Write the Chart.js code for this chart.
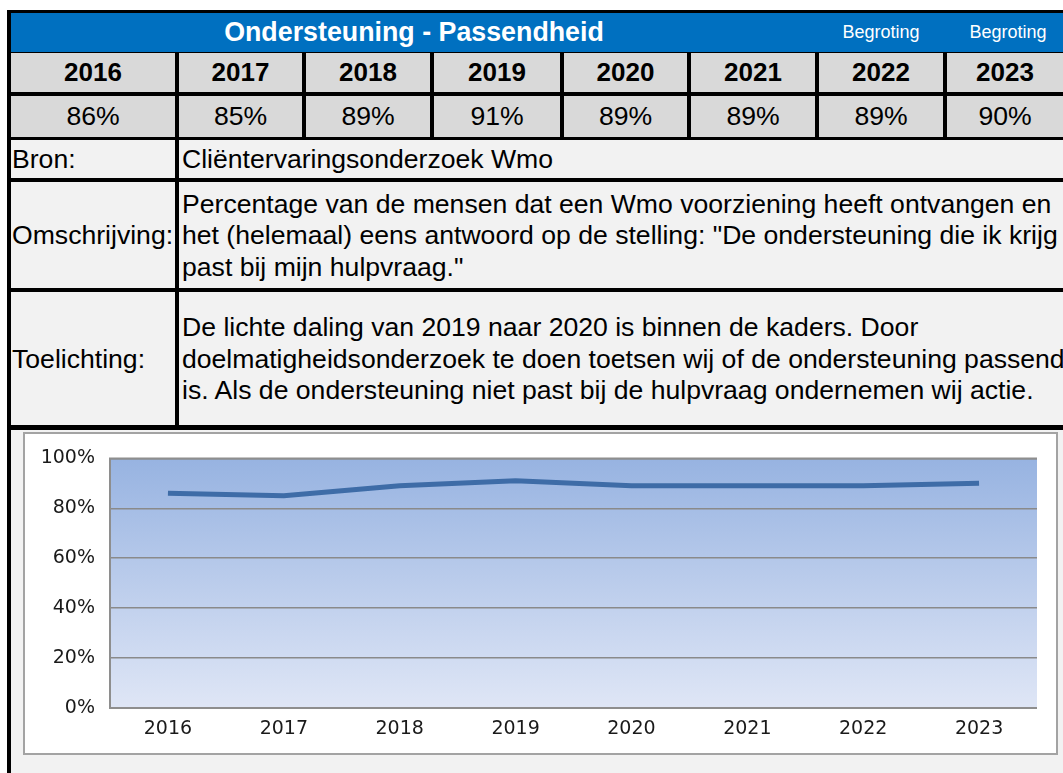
<!DOCTYPE html>
<html>
<head>
<meta charset="utf-8">
<script src="https://cdn.jsdelivr.net/npm/chart.js@4.4.1/dist/chart.umd.min.js"></script>
<style>
    body { margin: 0; background: #fff; width: 1063px; height: 773px; overflow: hidden; position: relative;
           font-family: "Liberation Sans", Arial, sans-serif; }
    .c { position: absolute; display: flex; align-items: center; box-sizing: border-box; white-space: nowrap;
         overflow: hidden; color: #000; font-size: 26.6px; line-height: 31.5px; }
    .frame { position: absolute; left: 23px; top: 432px; width: 1035px; height: 323px; box-sizing: border-box;
             border: 2px solid #a3a3a3; background: #fff; }
    #chartBox { position: absolute; left: 23px; top: 432px; width: 1035px; height: 323px; }
</style>
</head>
<body>
<div id="sheet"></div>
<div class="frame"></div>
<div id="chartBox"><canvas id="passendChart" width="1035" height="323"></canvas></div>
<script>
// Data
const years = ['2016', '2017', '2018', '2019', '2020', '2021', '2022', '2023'];
const values = [86, 85, 89, 91, 89, 89, 89, 90];
const yTicks = [0, 20, 40, 60, 80, 100];
const title = 'Ondersteuning - Passendheid';
const budgetNotes = ['Begroting', 'Begroting'];
const bron = 'Cliëntervaringsonderzoek Wmo';
const omschrijving = [
    'Percentage van de mensen dat een Wmo voorziening heeft ontvangen en',
    'het (helemaal) eens antwoord op de stelling: "De ondersteuning die ik krijg',
    'past bij mijn hulpvraag."'
];
const toelichting = [
    'De lichte daling van 2019 naar 2020 is binnen de kaders. Door',
    'doelmatigheidsonderzoek te doen toetsen wij of de ondersteuning passend',
    'is. Als de ondersteuning niet past bij de hulpvraag ondernemen wij actie.'
];

// Sheet layout
const sheet = document.getElementById('sheet');
const cols = [10, 177, 304, 432, 562, 689, 817, 945, 1063];

function cell(x0, y0, x1, y1, bg, html, style) {
    const d = document.createElement('div');
    d.className = 'c';
    d.style.left = x0 + 'px';
    d.style.top = y0 + 'px';
    d.style.width = (x1 - x0) + 'px';
    d.style.height = (y1 - y0) + 'px';
    if (bg) d.style.background = bg;
    if (html) d.innerHTML = html;
    Object.assign(d.style, style || {});
    sheet.appendChild(d);
    return d;
}

// black grid underneath
cell(7, 10, 1063, 773, '#000');

// header band
cell(11, 13, 1063, 52, '#0070c0');
cell(11, 13, 817, 52, null, title, { color: '#fff', fontWeight: 'bold', fontSize: '26.8px', justifyContent: 'center' });
budgetNotes.forEach((t, i) => {
    cell(cols[6 + i], 13, cols[7 + i] + (i === 1 ? 8 : 0), 52, null, t,
        { color: '#fff', fontSize: '18px', justifyContent: 'center' });
});

// years and values rows
years.forEach((y, i) => {
    const x0 = i === 0 ? 11 : cols[i] + 2;
    const x1 = i === years.length - 1 ? 1063 : cols[i + 1] - 2;
    cell(x0, 53, x1, 92, '#d9d9d9', y, { fontWeight: 'bold', fontSize: '26px', justifyContent: 'center' });
    cell(x0, 96, x1, 137, '#d9d9d9', values[i] + '%', { justifyContent: 'center' });
});

// info rows
const infoRows = [
    ['Bron:', [bron], 140, 178],
    ['Omschrijving:', omschrijving, 182, 288],
    ['Toelichting:', toelichting, 292, 425]
];
infoRows.forEach(r => {
    cell(11, r[2], 175, r[3], '#f2f2f2', r[0], { paddingLeft: '1px', paddingTop: '2px' });
    cell(179, r[2], 1063, r[3], '#f2f2f2', r[1].join('<br>'), { paddingLeft: '3px', paddingTop: '2px' });
});

// chart area background
cell(11, 430, 1063, 773, '#f2f2f2');

// Chart
const plotBg = {
    id: 'plotBg',
    beforeDraw(chart) {
        const { ctx, chartArea: a } = chart;
        const g = ctx.createLinearGradient(0, a.top, 0, a.bottom);
        g.addColorStop(0, '#97b3e1');
        g.addColorStop(1, '#dfe6f6');
        ctx.save();
        ctx.fillStyle = g;
        ctx.fillRect(a.left, a.top, a.right - a.left, a.bottom - a.top);
        ctx.restore();
    },
    beforeDatasetsDraw(chart) {
        const { ctx, chartArea: a } = chart;
        ctx.save();
        ctx.strokeStyle = '#8e8e8e';
        ctx.lineWidth = 2;
        ctx.beginPath();
        ctx.moveTo(a.right, a.top);
        ctx.lineTo(a.left, a.top);
        ctx.lineTo(a.left, a.bottom);
        ctx.lineTo(a.right, a.bottom);
        ctx.stroke();
        ctx.restore();
    }
};

const tickFont = { family: 'DejaVu Sans', size: 19 };

new Chart(document.getElementById('passendChart').getContext('2d'), {
    type: 'line',
    data: {
        labels: years,
        datasets: [{
            data: values,
            borderColor: '#3e6ca7',
            borderWidth: 5,
            pointRadius: 0,
            tension: 0,
            fill: false
        }]
    },
    options: {
        responsive: false,
        animation: false,
        layout: { padding: { top: 26, right: 21, left: 0, bottom: 0 } },
        plugins: { legend: { display: false }, tooltip: { enabled: false } },
        scales: {
            x: {
                offset: true,
                grid: { display: false, drawTicks: false },
                border: { display: false },
                ticks: { padding: 10, color: '#1a1a1a', font: tickFont },
                afterFit(s) { s.height = 47; }
            },
            y: {
                min: yTicks[0],
                max: yTicks[yTicks.length - 1],
                afterBuildTicks(s) { s.ticks = yTicks.map(v => ({ value: v })); },
                grid: { color: '#8a8a8a', lineWidth: 1.5, drawTicks: false },
                border: { display: false },
                ticks: { padding: 15, color: '#1a1a1a', font: tickFont, callback: v => v + '%' },
                afterFit(s) { s.width = 87; }
            }
        }
    },
    plugins: [plotBg]
});
</script>
</body>
</html>
